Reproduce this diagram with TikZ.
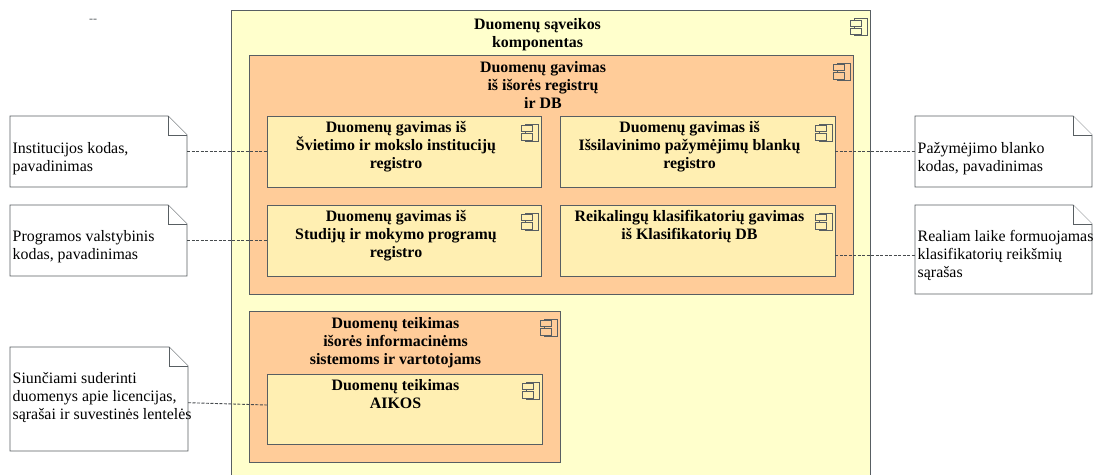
\documentclass[tikz,border=0pt]{standalone}
\usepackage{fontspec}
\setmainfont{Liberation Serif}
\usepackage{tikz}
\usepackage{xcolor}
\usetikzlibrary{positioning, calc}
\definecolor{compyellow}{RGB}{255, 255, 204}
\definecolor{comporange}{RGB}{255, 204, 153}
\definecolor{compinner}{RGB}{255, 239, 178}
\definecolor{edgegray}{RGB}{88, 94, 98}
\newcommand{\notefold}[1]{%
    \draw[notebody] (#1.north west) -- ([xshift=-19pt]#1.north east) -- ([yshift=-19pt]#1.north east) -- (#1.south east) -- (#1.south west) -- cycle;
    \draw[notebody] ([xshift=-19pt]#1.north east) |- ([yshift=-19pt]#1.north east);
}

\begin{document}
\begin{tikzpicture}[
    x=1pt, y=-1pt,
    box/.style={rectangle, draw=edgegray, line width=0.9pt, anchor=north west, inner sep=0pt, outer sep=0pt},
    outerbox/.style={box, fill=compyellow},
    groupbox/.style={box, fill=comporange},
    innerbox/.style={box, fill=compinner},
    notebox/.style={rectangle, anchor=north west, inner sep=0pt, outer sep=0pt},
    notebody/.style={draw=edgegray, line width=0.9pt, fill=white},
    title/.style={font=\fontsize{15.9}{18}\selectfont\bfseries, align=center, inner sep=0pt},
    notetext/.style={font=\fontsize{15.9}{18}\selectfont, align=left, anchor=north west, inner sep=0pt},
    edge/.style={edgegray!80!black, line width=0.9pt, dash pattern=on 3pt off 1.5pt},
    pics/compicon/.style={code={
        \draw[edgegray, line width=0.9pt] (-15.5,8) rectangle (-2.5,25);
        \draw[edgegray, line width=0.9pt, fill=#1] (-19.5,9.5) rectangle (-9,15.5);
        \draw[edgegray, line width=0.9pt, fill=#1] (-19.5,17.5) rectangle (-9,24);
    }}
]
\clip (0,0) rectangle (1095,474);

% Top mark
\node[text=edgegray, font=\fontsize{12}{14}\selectfont, inner sep=0pt] (mark) at (93,21) {{-}{-}};

% Outer component
\node[outerbox, minimum width=639pt, minimum height=480pt] (saveika) at (231,10.5) {};
\node[title, below=8pt of saveika.north, xshift=-13pt] (saveikat) {Duomenų sąveikos\\komponentas};
\pic at (saveika.north east) {compicon=compyellow};

% Data fetching
\node[groupbox, minimum width=604pt, minimum height=239pt] (gavimas) at (249,55) {};
\node[title, below=6pt of gavimas.north, xshift=-8pt] (gavimast) {Duomenų gavimas\\iš išorės registrų\\ir DB};
\pic at (gavimas.north east) {compicon=comporange};

\node[innerbox, minimum width=274pt, minimum height=71pt] (svietimas) at (267,116) {};
\node[title, below=5pt of svietimas.north, xshift=-8pt] (svietimast) {Duomenų gavimas iš\\Švietimo ir mokslo institucijų\\registro};
\pic at (svietimas.north east) {compicon=compinner};

\node[innerbox, minimum width=275pt, minimum height=71pt] (blankai) at (560,116) {};
\node[title, below=5pt of blankai.north, xshift=-8pt] (blankait) {Duomenų gavimas iš\\Išsilavinimo pažymėjimų blankų\\registro};
\pic at (blankai.north east) {compicon=compinner};

\node[innerbox, minimum width=274pt, minimum height=71pt] (studijos) at (267,205) {};
\node[title, below=5pt of studijos.north, xshift=-8pt] (studijost) {Duomenų gavimas iš\\Studijų ir mokymo programų\\registro};
\pic at (studijos.north east) {compicon=compinner};

\node[innerbox, minimum width=275pt, minimum height=71pt] (klasif) at (560,205) {};
\node[title, below=5pt of klasif.north, xshift=-8pt] (klasift) {Reikalingų klasifikatorių gavimas\\iš Klasifikatorių DB};
\pic at (klasif.north east) {compicon=compinner};

% Data delivery
\node[groupbox, minimum width=311pt, minimum height=151pt] (teikimas) at (249,311) {};
\node[title, below=6pt of teikimas.north, xshift=-9pt] (teikimast) {Duomenų teikimas\\išorės informacinėms\\sistemoms ir vartotojams};
\pic at (teikimas.north east) {compicon=comporange};

\node[innerbox, minimum width=275pt, minimum height=70pt] (aikos) at (267,374) {};
\node[title, below=5pt of aikos.north, xshift=-9pt] (aikost) {Duomenų teikimas\\AIKOS};
\pic at (aikos.north east) {compicon=compinner};

% Notes
\node[notebox, minimum width=177pt, minimum height=71pt] (n1) at (10,116) {};
\notefold{n1}
\node[notetext, below right=26pt and 2.5pt of n1.north west] (n1t) {Institucijos kodas,\\pavadinimas};

\node[notebox, minimum width=177pt, minimum height=71pt] (n2) at (10,205) {};
\notefold{n2}
\node[notetext, below right=25pt and 2.5pt of n2.north west] (n2t) {Programos valstybinis\\kodas, pavadinimas};

\node[notebox, minimum width=178pt, minimum height=104pt] (n3) at (10,347) {};
\notefold{n3}
\node[notetext, below right=25pt and 2.5pt of n3.north west] (n3t) {Siunčiami suderinti\\duomenys apie licencijas,\\sąrašai ir suvestinės lentelės};

\node[notebox, minimum width=177pt, minimum height=71pt] (n4) at (915,116) {};
\notefold{n4}
\node[notetext, below right=26pt and 2.5pt of n4.north west] (n4t) {Pažymėjimo blanko\\kodas, pavadinimas};

\node[notebox, minimum width=177pt, minimum height=89pt] (n5) at (915,205) {};
\notefold{n5}
\node[notetext, below right=25.5pt and 2.5pt of n5.north west] (n5t) {Realiam laike formuojamas\\klasifikatorių reikšmių\\sąrašas};

% Connectors
\draw[edge] (n1.east) -- (svietimas.west);
\draw[edge] (n2.east) -- (studijos.west);
\draw[edge] ([yshift=-3.7pt]n3.east) -- ([yshift=4pt]aikos.west);
\draw[edge] (blankai.east) -- (n4.west);
\draw[edge] ([yshift=-15pt]klasif.east) -- ([yshift=-6pt]n5.west);

\end{tikzpicture}
\end{document}
